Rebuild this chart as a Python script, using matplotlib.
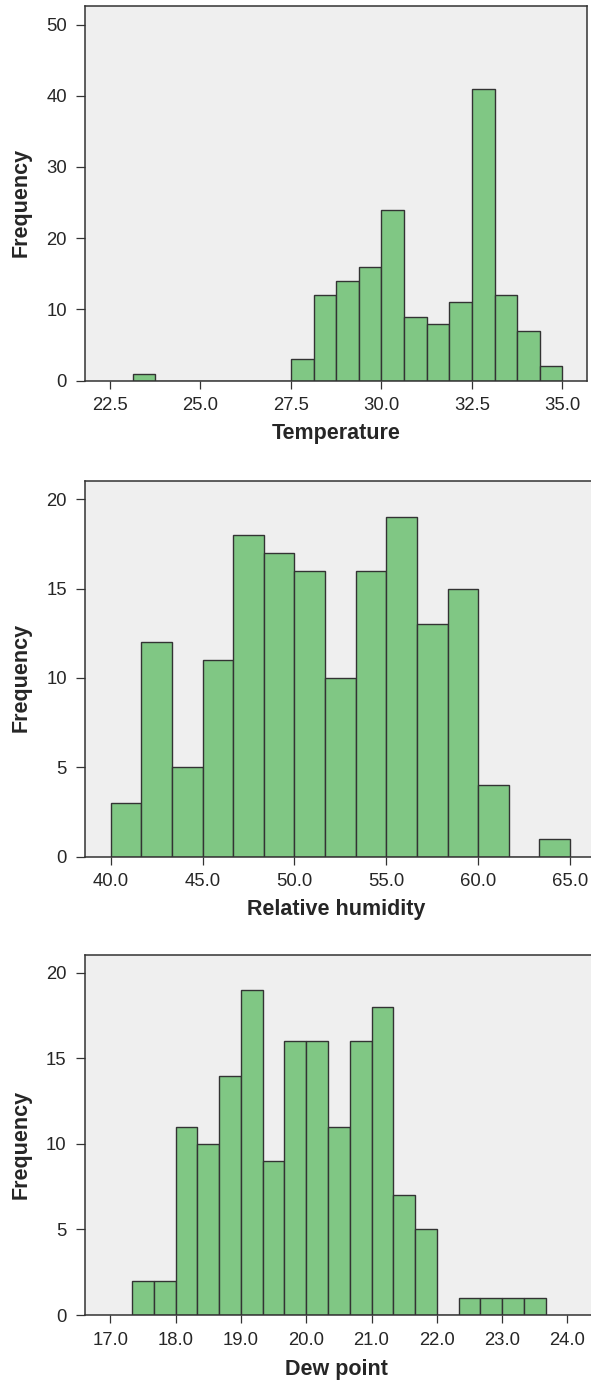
import numpy as np
import matplotlib
matplotlib.use("Agg")
import matplotlib.pyplot as plt

# ---------------- data ----------------
temp_start = 23.125
temp_width = 0.625
temp_counts = [1, 0, 0, 0, 0, 0, 0, 3, 12, 14, 16, 24, 9, 8, 11, 41, 12, 7, 2]
temp_ticks = [22.5, 25.0, 27.5, 30.0, 32.5, 35.0]
temp_yticks = [0, 10, 20, 30, 40, 50]

rh_start = 40.0
rh_width = 5.0 / 3.0
rh_counts = [3, 12, 5, 11, 18, 17, 16, 10, 16, 19, 13, 15, 4, 0, 1]
rh_ticks = [40.0, 45.0, 50.0, 55.0, 60.0, 65.0]
rh_yticks = [0, 5, 10, 15, 20]

dew_start = 17.0 + 1.0 / 3.0
dew_width = 1.0 / 3.0
dew_counts = [2, 2, 11, 10, 14, 19, 9, 16, 16, 11, 16, 18, 7, 5, 0, 1, 1, 1, 1]
dew_ticks = [17.0, 18.0, 19.0, 20.0, 21.0, 22.0, 23.0, 24.0]
dew_yticks = [0, 5, 10, 15, 20]

xlabels = ["Temperature", "Relative humidity", "Dew point"]
ylabel = "Frequency"

# ---------------- style ----------------
plt.rcParams['font.family'] = ['Liberation Sans', 'DejaVu Sans']
W, H = 591, 1381
fig = plt.figure(figsize=(W / 100, H / 100), dpi=100)

BAR = '#80c784'
EDGE = '#333333'
BG = '#efefef'
TXT = '#262626'

def px_axes(left, right, top, bottom):
    return [left / W, 1 - bottom / H, (right - left) / W, (bottom - top) / H]

panels = [
    dict(rect=px_axes(85, 587, 6, 380.7), start=temp_start, width=temp_width,
         counts=temp_counts, xticks=temp_ticks, yticks=temp_yticks,
         xlim=(21.81, 35.68), ylim=(0, 52.6), xlabel=xlabels[0], xlab_y=434,
         right_spine=True),
    dict(rect=px_axes(85, 591, 480.7, 856.7), start=rh_start, width=rh_width,
         counts=rh_counts, xticks=rh_ticks, yticks=rh_yticks,
         xlim=(38.6, 66.14), ylim=(0, 21.04), xlabel=xlabels[1], xlab_y=910,
         right_spine=False),
    dict(rect=px_axes(84.5, 591, 955, 1315), start=dew_start, width=dew_width,
         counts=dew_counts, xticks=dew_ticks, yticks=dew_yticks,
         xlim=(16.606, 24.36), ylim=(0, 21.05), xlabel=xlabels[2], xlab_y=1370,
         right_spine=False),
]

for p in panels:
    ax = fig.add_axes(p['rect'])
    ax.set_facecolor(BG)
    n = len(p['counts'])
    lefts = p['start'] + np.arange(n) * p['width']
    ax.bar(lefts, p['counts'], width=p['width'], align='edge',
           color=BAR, edgecolor=EDGE, linewidth=1.0, zorder=2)
    ax.set_xlim(*p['xlim'])
    ax.set_ylim(*p['ylim'])
    ax.set_xticks(p['xticks'])
    ax.set_xticklabels([f"{t:.1f}" for t in p['xticks']])
    ax.set_yticks(p['yticks'])
    ax.set_yticklabels([str(t) for t in p['yticks']])
    for s in ax.spines.values():
        s.set_color(EDGE)
        s.set_linewidth(1.1)
    if not p['right_spine']:
        ax.spines['right'].set_visible(False)
    ax.tick_params(axis='x', length=5.5, width=0.9, color=EDGE, pad=6.5,
                   labelsize=13.3, labelcolor=TXT)
    ax.tick_params(axis='y', length=6.5, width=0.9, color=EDGE, pad=6.5,
                   labelsize=13.3, labelcolor=TXT)
    ax.set_xlabel(p['xlabel'], fontsize=15.5, fontweight='bold', color=TXT)
    ax.xaxis.set_label_coords(336 / W, 1 - p['xlab_y'] / H, transform=fig.transFigure)
    ax.xaxis.label.set_va('center')
    ax.set_ylabel(ylabel, fontsize=15.5, fontweight='bold', color=TXT)
    r = p['rect']
    ycen_px = (1 - (r[1] + r[3] / 2)) * H + 9
    ax.yaxis.set_label_coords(21 / W, 1 - ycen_px / H, transform=fig.transFigure)
    ax.yaxis.label.set_va('center')

fig.savefig('out.png', dpi=100, facecolor='white')
